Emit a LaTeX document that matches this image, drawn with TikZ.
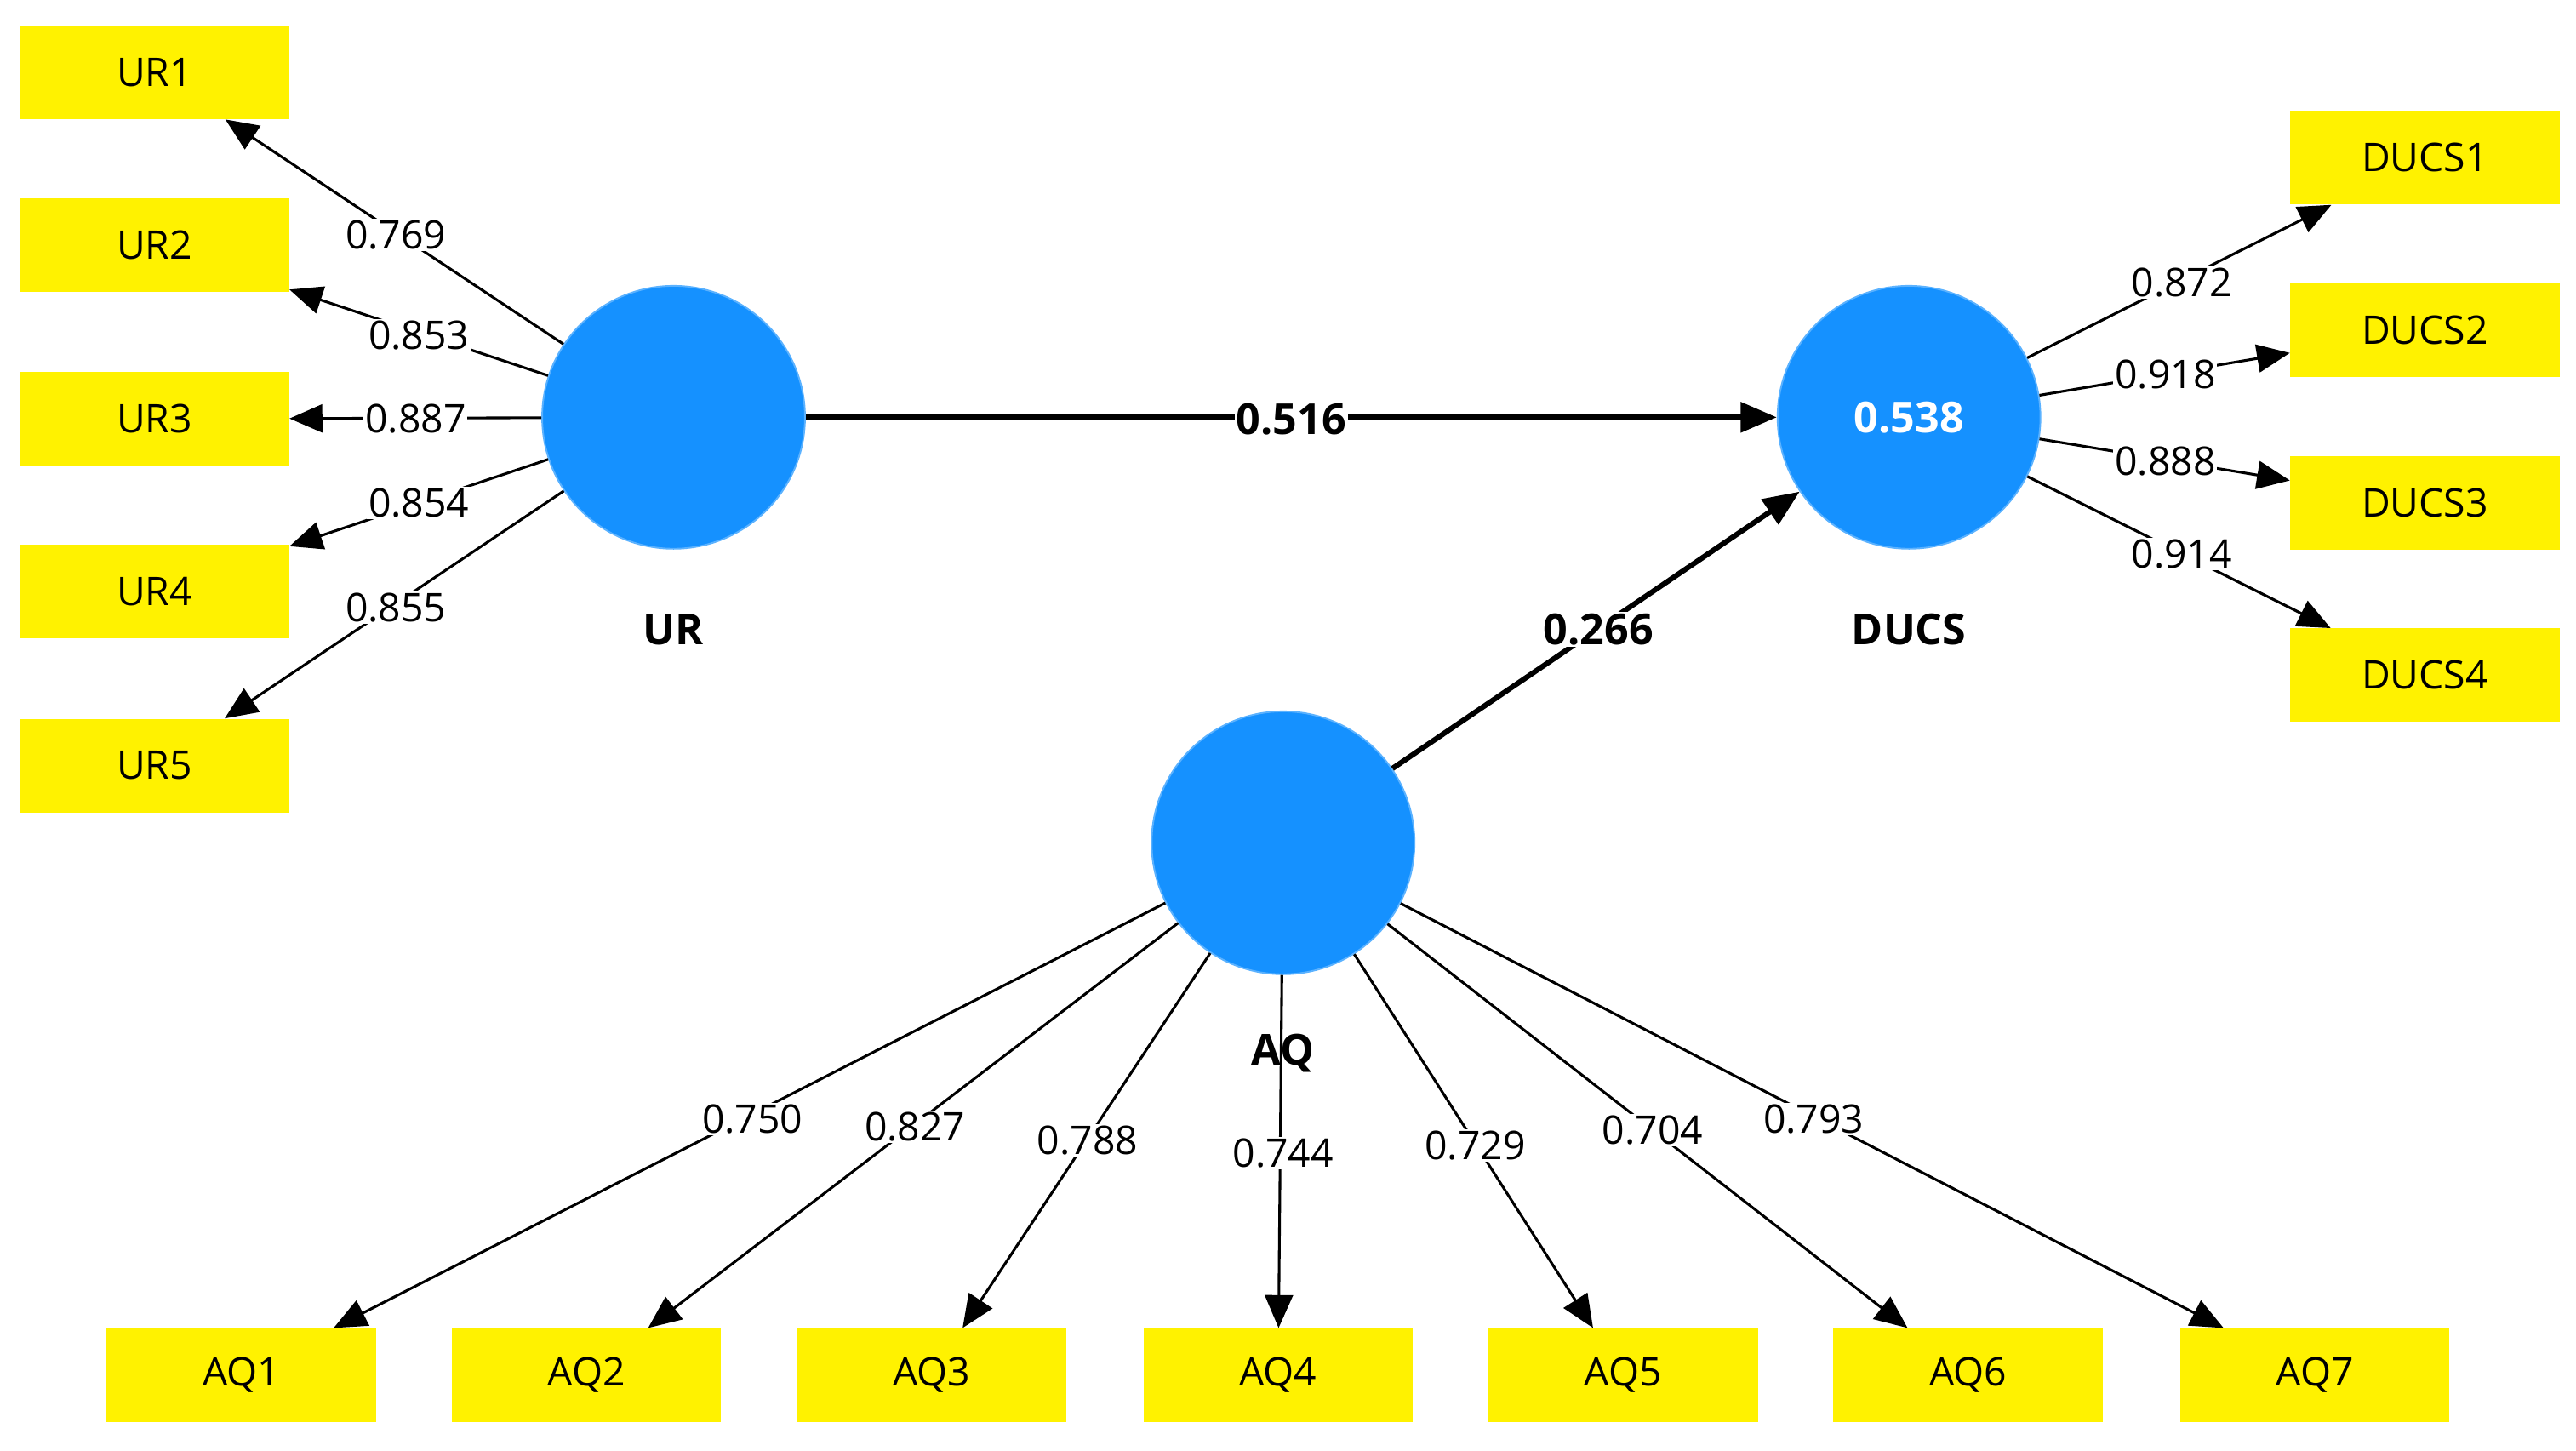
\documentclass[tikz,border=0pt]{standalone}
\usepackage{fontspec}
\setmainfont{Open Sans}
\usetikzlibrary{arrows.meta}
\definecolor{lv}{RGB}{21,145,255}
\begin{document}
\begin{tikzpicture}[x=1pt,y=-1pt,
  box/.style={fill=yellow,minimum width=164pt,minimum height=57pt,inner sep=0pt,font=\fontsize{24}{24}\selectfont},
  lat/.style={circle,fill=lv,draw=lv!70!white,line width=1pt,minimum size=160pt,inner sep=0pt},
  lab/.style={font=\bfseries\fontsize{26}{26}\selectfont},
  ld/.style={line width=1.6pt,-{Triangle[length=20pt,width=17pt]}},
  st/.style={line width=3.2pt,-{Triangle[length=22pt,width=18pt]}},
  num/.style={fill=white,inner sep=1pt,font=\fontsize{24}{24}\selectfont},
  bnum/.style={fill=white,inner sep=1pt,font=\bfseries\fontsize{26}{26}\selectfont}]
\useasboundingbox (0,0) rectangle (1568,883);
\node[lat] (UR) at (410,254) {};
\node[lat,text=white,font=\bfseries\fontsize{26}{26}\selectfont] (DUCS) at (1162,254) {0.538};
\node[lat] (AQ) at (781,513) {};
\node[lab] at (410,383) {UR};
\node[lab] at (1162,383) {DUCS};
\node[lab] at (781,641) {AQ};
\foreach \i/\y in {1/44,2/149,3/255,4/360,5/466}{\node[box] (ur\i) at (94,\y) {UR\i};}
\foreach \i/\y in {1/96,2/201,3/306,4/411}{\node[box] (d\i) at (1476,\y) {DUCS\i};}
\foreach \i/\x in {1/147,2/357,3/567,4/778,5/988,6/1198,7/1409}{\node[box] (aq\i) at (\x,837) {AQ\i};}
\foreach \i in {1,...,5}{\draw[ld] (UR) -- (ur\i);}
\foreach \i in {1,...,4}{\draw[ld] (DUCS) -- (d\i);}
\foreach \i in {1,...,7}{\draw[ld] (AQ) -- (aq\i);}
\draw[st] (UR) -- (DUCS);
\draw[st] (AQ) -- (DUCS);
\node[bnum] at (786,255) {0.516};
\node[bnum] at (973,383) {0.266};
\node[num] at (241,143) {0.769};
\node[num] at (255,204) {0.853};
\node[num] at (253,255) {0.887};
\node[num] at (255,306) {0.854};
\node[num] at (241,370) {0.855};
\node[num] at (1328,172) {0.872};
\node[num] at (1318,228) {0.918};
\node[num] at (1318,281) {0.888};
\node[num] at (1328,337) {0.914};
\node[num] at (458,681) {0.750};
\node[num] at (557,686) {0.827};
\node[num] at (662,694) {0.788};
\node[num] at (781,702) {0.744};
\node[num] at (898,697) {0.729};
\node[num] at (1006,688) {0.704};
\node[num] at (1104,681) {0.793};
\end{tikzpicture}
\end{document}
